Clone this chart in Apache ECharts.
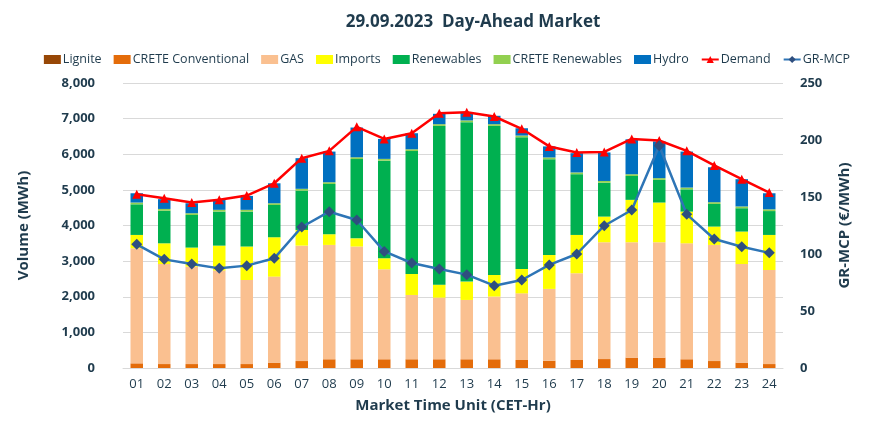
<!DOCTYPE html>
<html><head><meta charset="utf-8">
<script src="https://cdn.jsdelivr.net/npm/echarts@6/dist/echarts.min.js"></script>
<style>html,body{margin:0;padding:0;background:#fff}#c{width:894px;height:425px}</style>
</head><body><div id="c"></div>
<script>
const hours = ["01","02","03","04","05","06","07","08","09","10","11","12","13","14","15","16","17","18","19","20","21","22","23","24"];
const lignite = [0,0,0,0,0,0,0,0,0,0,0,0,0,0,0,0,0,0,0,0,0,0,0,0];
const creteConv = [130,110,110,110,110,150,195,245,245,245,245,245,245,245,225,205,225,250,290,290,245,195,150,110];
const gas = [3230,2810,2735,2625,2360,2415,3240,3210,3165,2525,1805,1730,1665,1760,1870,2015,2435,3280,3240,3240,3255,3260,2770,2640];
const imports = [375,580,535,700,940,1105,440,300,230,310,590,365,515,605,685,955,1075,720,1190,1115,890,515,910,985];
const renewables = [860,915,915,955,980,905,1105,1410,2225,2740,3450,4455,4475,4185,3695,2685,1705,950,670,635,625,635,655,670];
const creteRen = [50,50,50,50,50,50,50,50,50,50,50,50,50,50,50,50,50,50,50,50,50,50,50,50];
const hydro = [260,275,280,280,390,560,860,860,835,560,450,290,220,235,205,310,540,800,980,1030,1010,980,765,450];
const demand = [4880,4765,4645,4720,4840,5185,5890,6095,6770,6430,6590,7150,7180,7060,6715,6220,6050,6065,6430,6385,6095,5685,5300,4925];
const mcp = [108.5,95.3,91.2,87.4,89.8,96.2,123.7,137.1,129.8,102.3,92.1,86.8,81.9,72.2,77.2,90.4,100,124.8,138.6,195,134.8,113.2,106.4,101];

const txt = '#1F3B4D';
const font = 'Open Sans';
function bar(name, data, color){
  return {name, type:'bar', stack:'v', data, barWidth:12.5, itemStyle:{color}, emphasis:{disabled:true}};
}
const chart = echarts.init(document.getElementById('c'));
chart.setOption({
  animation:false,
  textStyle:{fontFamily:font},
  title:{text:'29.09.2023  Day-Ahead Market', left:468, top:9, textAlign:'center',
    textStyle:{fontFamily:font, fontSize:17, fontWeight:'bold', color:txt}},
  legend:{top:48, left:'center', itemWidth:17, itemHeight:9, itemGap:12,
    textStyle:{fontFamily:font, fontSize:12.5, color:txt, padding:[0,0,0,-3]},
    data:[
      {name:'Lignite', icon:'rect'},{name:'CRETE Conventional', icon:'rect'},{name:'GAS', icon:'rect'},
      {name:'Imports', icon:'rect'},{name:'Renewables', icon:'rect'},{name:'CRETE Renewables', icon:'rect'},
      {name:'Hydro', icon:'rect'},{name:'Demand'},{name:'GR-MCP'}]},
  grid:{left:123, right:111, top:83, bottom:57},
  xAxis:{type:'category', data:hours, name:'Market Time Unit (CET-Hr)', nameLocation:'middle', nameGap:30,
    nameTextStyle:{fontFamily:font, fontSize:15, fontWeight:'bold', color:txt},
    axisLine:{lineStyle:{color:'#D9D9D9'}}, axisTick:{show:false},
    axisLabel:{fontFamily:font, fontSize:13, color:txt, margin:10}},
  yAxis:[
    {type:'value', min:0, max:8000, interval:1000, name:'Volume (MWh)', nameLocation:'middle', nameGap:92,
     nameTextStyle:{fontFamily:font, fontSize:15, fontWeight:'bold', color:txt},
     axisLabel:{fontFamily:font, fontSize:13, fontWeight:'bold', color:txt, margin:28,
       formatter:v=>v.toLocaleString('en-US')},
     splitLine:{lineStyle:{color:'#D9D9D9'}}, axisLine:{show:false}, axisTick:{show:false}},
    {type:'value', min:0, max:250, interval:50, name:'GR-MCP (€/MWh)', nameLocation:'middle', nameGap:54,
     nameTextStyle:{fontFamily:font, fontSize:15, fontWeight:'bold', color:txt},
     axisLabel:{fontFamily:font, fontSize:13, fontWeight:'bold', color:txt, margin:17},
     splitLine:{show:false}, axisLine:{show:false}, axisTick:{show:false}}
  ],
  series:[
    bar('Lignite', lignite, '#974706'),
    bar('CRETE Conventional', creteConv, '#E46C0A'),
    bar('GAS', gas, '#FAC090'),
    bar('Imports', imports, '#FFFF00'),
    bar('Renewables', renewables, '#00B050'),
    bar('CRETE Renewables', creteRen, '#92D050'),
    bar('Hydro', hydro, '#0070C0'),
    {name:'Demand', type:'line', data:demand, symbol:'triangle', symbolSize:9,
     lineStyle:{color:'#FF0000', width:2.5}, itemStyle:{color:'#FF0000'}, z:5},
    {name:'GR-MCP', type:'line', yAxisIndex:1, data:mcp, symbol:'diamond', symbolSize:11,
     lineStyle:{color:'#2E75B6', width:2.5}, itemStyle:{color:'#2F4F7F'}, z:6}
  ]
});
</script></body></html>
